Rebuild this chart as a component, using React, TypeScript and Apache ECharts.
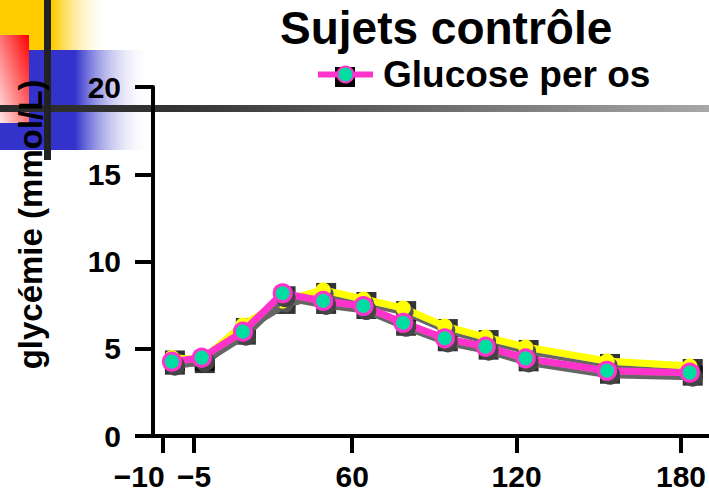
import React, { useEffect, useRef } from "react";
import * as echarts from "echarts";

const FONT = '"Liberation Sans", Arial, sans-serif';

const times = [-5.8, 5.1, 20.1, 34.6, 49.4, 64.1, 78.6, 93.8, 108.7, 123.3, 153, 183.2];
// glycémie, magenta series "Glucose per os"
const glucosePerOs = [4.26, 4.49, 5.98, 8.18, 7.74, 7.45, 6.49, 5.6, 5.12, 4.45, 3.74, 3.63];
// second (yellow) series
const yellowSeries = [4.5, 4.35, 6.36, 7.74, 8.37, 7.85, 7.33, 6.3, 5.67, 5.1, 4.3, 4.01];

const xTickValues = [-9, 2.3, 60, 120, 180];
const xTickLabels = ["−10", "−5", "60", "120", "180"];
const yTicks = { min: 0, max: 20, interval: 5 };

export default function App() {
  const ref = useRef<HTMLDivElement>(null);
  useEffect(() => {
    document.body.style.margin = "0";
    const chart = echarts.init(ref.current!, null, { renderer: "svg" });
    const magenta = times.map((t, i) => [t, glucosePerOs[i]]);
    const yellow = times.map((t, i) => [t, yellowSeries[i]]);
    chart.setOption({
      animation: false,
      backgroundColor: "#fff",
      textStyle: { fontFamily: FONT },
      title: {
        text: "Sujets contrôle",
        left: 280,
        top: 5,
        padding: 0,
        textStyle: { fontSize: 46, fontWeight: "bold", color: "#000", fontFamily: FONT },
      },
      legend: {
        data: ["Glucose per os"],
        left: 315,
        top: 56,
        padding: 0,
        itemWidth: 55,
        itemHeight: 20,
        lineStyle: { width: 6 },
        textStyle: { fontSize: 37, fontWeight: "bold", color: "#000", fontFamily: FONT, padding: [0, 0, 0, 5] },
      },
      grid: { left: 153, right: 0, top: 87, bottom: 63, containLabel: false },
      xAxis: {
        type: "value",
        min: -12.7,
        max: 190.1,
        axisLine: { show: true, onZero: true, lineStyle: { color: "#000", width: 4 } },
        axisTick: { show: true, customValues: xTickValues, length: 17, lineStyle: { color: "#000", width: 4 } },
        axisLabel: {
          customValues: xTickValues,
          margin: 25,
          fontSize: 30,
          fontWeight: "bold",
          color: "#000",
          fontFamily: FONT,
          formatter: (v: number) => {
            const i = xTickValues.findIndex((x) => Math.abs(x - v) < 1e-6);
            const s = i >= 0 ? xTickLabels[i] : "";
            return i === 0 ? "{l|" + s + "}" : s;
          },
          rich: {
            l: { fontSize: 30, fontWeight: "bold", color: "#000", fontFamily: FONT, padding: [0, 48, 0, 0] },
          },
        },
        splitLine: { show: false },
      },
      yAxis: {
        type: "value",
        min: yTicks.min,
        max: yTicks.max,
        interval: yTicks.interval,
        axisLine: { show: true, onZero: false, lineStyle: { color: "#000", width: 4 } },
        axisTick: { show: true, length: 18, lineStyle: { color: "#000", width: 4 } },
        axisLabel: { margin: 32, fontSize: 30, fontWeight: "bold", color: "#000", fontFamily: FONT },
        splitLine: { show: false },
        name: "glycémie (mmol/L)",
        nameLocation: "middle",
        nameRotate: 90,
        nameGap: 106,
        nameTextStyle: { fontSize: 33, fontWeight: "bold", color: "#000", fontFamily: FONT, padding: [0, 0, 0, 74] },
      },
      graphic: [
        {
          type: "rect", z: -10,
          shape: { x: 0, y: 0, width: 110, height: 50 },
          style: { fill: new echarts.graphic.LinearGradient(0, 0, 1, 0, [
            { offset: 0, color: "#FFCC00" }, { offset: 0.48, color: "#FFCC00" }, { offset: 1, color: "rgba(255,255,255,0)" }]) },
        },
        {
          type: "rect", z: -10,
          shape: { x: 0, y: 50, width: 150, height: 100 },
          style: { fill: new echarts.graphic.LinearGradient(0, 0, 1, 0, [
            { offset: 0, color: "#3333CC" }, { offset: 0.5, color: "#3333CC" }, { offset: 1, color: "rgba(255,255,255,0)" }]) },
        },
        {
          type: "rect", z: -9,
          shape: { x: 0, y: 35, width: 29, height: 88 },
          style: { fill: new echarts.graphic.LinearGradient(1, 0, 0, 1, [
            { offset: 0, color: "#FF0000" }, { offset: 1, color: "#FFE8E8" }]) },
        },
        {
          type: "rect", z: -8,
          shape: { x: 0, y: 105, width: 709, height: 7 },
          style: { fill: new echarts.graphic.LinearGradient(0, 0, 1, 0, [
            { offset: 0, color: "#2a2a2a" }, { offset: 0.25, color: "#333333" }, { offset: 1, color: "#a8a8a8" }]) },
        },
        {
          type: "rect", z: -8,
          shape: { x: 44, y: 0, width: 7, height: 160 },
          style: { fill: "#222" },
        },
        {
          type: "rect", z: -5,
          shape: { x: 335, y: 67, width: 20, height: 20 },
          style: { fill: "#000" },
        },
      ],
      series: [
        {
          type: "scatter", name: "sq1", data: yellow, symbol: "rect", symbolSize: 20, symbolOffset: [3, 3],
          itemStyle: { color: "#000" }, z: 1, silent: true,
        },
        {
          type: "scatter", name: "sq2", data: magenta, symbol: "rect", symbolSize: 20, symbolOffset: [3, 3],
          itemStyle: { color: "#000" }, z: 1, silent: true,
        },
        {
          type: "line", name: "Série 2", data: yellow, symbol: "circle", symbolSize: 15,
          lineStyle: { color: "#FFFF00", width: 7, shadowColor: "#666", shadowOffsetX: 2, shadowOffsetY: 4, shadowBlur: 0 },
          itemStyle: { color: "#FFFF00", shadowColor: "#555", shadowOffsetX: 3, shadowOffsetY: 4, shadowBlur: 0 },
          z: 3,
        },
        {
          type: "line", name: "Glucose per os", data: magenta, symbol: "circle", symbolSize: 17,
          lineStyle: { color: "#FF33CC", width: 7, shadowColor: "#666", shadowOffsetX: 2, shadowOffsetY: 4, shadowBlur: 0 },
          itemStyle: { color: "#00DDA0", borderColor: "#FF33CC", borderWidth: 3, shadowColor: "#444", shadowOffsetX: 3, shadowOffsetY: 4, shadowBlur: 0 },
          z: 4,
        },
      ],
    });
    return () => chart.dispose();
  }, []);
  return <div ref={ref} style={{ width: 709, height: 499 }} />;
}
